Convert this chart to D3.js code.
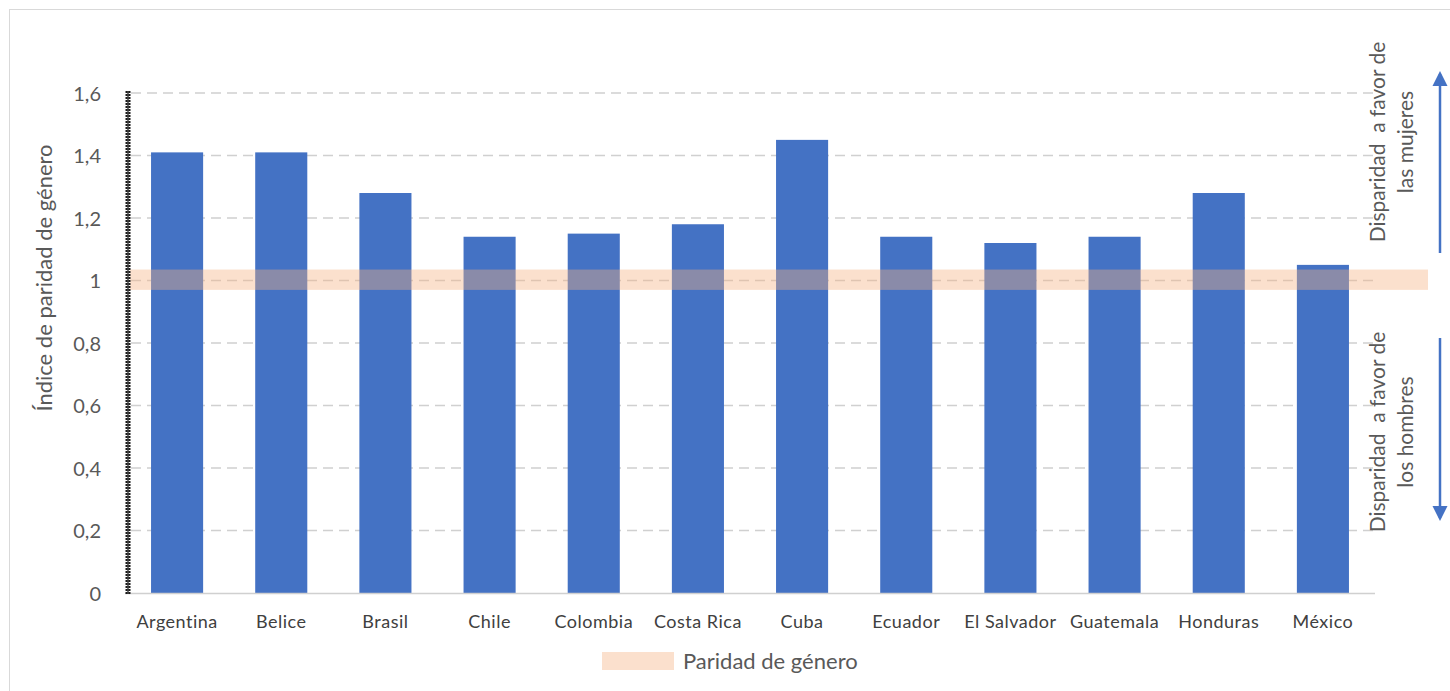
<!DOCTYPE html>
<html>
<head>
<meta charset="utf-8">
<script src="https://cdn.jsdelivr.net/npm/d3@7"></script>
<style>
  body { margin: 0; background: #fff; }
  svg { display: block; font-family: Lato, "Open Sans", sans-serif; }
</style>
</head>
<body>
<svg id="chart" width="1450" height="691"></svg>
<script>
const categories = ["Argentina", "Belice", "Brasil", "Chile", "Colombia", "Costa Rica", "Cuba", "Ecuador", "El Salvador", "Guatemala", "Honduras", "México"];
const values = [1.41, 1.41, 1.28, 1.14, 1.15, 1.18, 1.45, 1.14, 1.12, 1.14, 1.28, 1.05];
const yTicks = [0, 0.2, 0.4, 0.6, 0.8, 1, 1.2, 1.4, 1.6];
const parityBand = [0.97, 1.035];
const yTitle = "Índice de paridad de género";
const legendLabel = "Paridad de género";
const noteUp = ["Disparidad  a favor de", "las mujeres"];
const noteDown = ["Disparidad  a favor de", "los hombres"];

const svg = d3.select("#chart");
const mLeft = 125, mRight = 1375, mTop = 93, mBottom = 593;

// outer frame
svg.append("rect").attr("x", 9.5).attr("y", 9.5).attr("width", 1460).attr("height", 720)
  .attr("fill", "none").attr("stroke", "#d9d9d9").attr("stroke-width", 1);

const x = d3.scaleBand().domain(categories).range([mLeft, mRight]).paddingInner(0.5).paddingOuter(0.25);
const y = d3.scaleLinear().domain([0, 1.6]).range([mBottom, mTop]);

// gridlines
svg.append("g").selectAll("line").data(yTicks.filter(d => d > 0)).join("line")
  .attr("x1", mLeft + 6).attr("x2", mRight)
  .attr("y1", d => y(d)).attr("y2", d => y(d))
  .attr("stroke", "#d0d0d0").attr("stroke-width", 1.5).attr("stroke-dasharray", "10,6");

// bars
svg.append("g").selectAll("rect").data(values).join("rect")
  .attr("x", (d, i) => x(categories[i]))
  .attr("width", x.bandwidth())
  .attr("y", d => y(d))
  .attr("height", d => mBottom - y(d))
  .attr("fill", "#4472C4");

// x axis line
svg.append("line").attr("x1", mLeft).attr("x2", mRight).attr("y1", mBottom + 0.5).attr("y2", mBottom + 0.5)
  .attr("stroke", "#d0d0d0").attr("stroke-width", 1.5);

// parity band overlay
svg.append("rect")
  .attr("x", mLeft + 5).attr("width", 1428 - mLeft - 5)
  .attr("y", y(parityBand[1])).attr("height", y(parityBand[0]) - y(parityBand[1]))
  .attr("fill", "#F4B183").attr("opacity", 0.4);

// y axis (striped dark line)
svg.append("line").attr("x1", mLeft + 3).attr("x2", mLeft + 3).attr("y1", mTop - 2).attr("y2", mBottom + 1)
  .attr("stroke", "#1a1a1a").attr("stroke-width", 5).attr("stroke-dasharray", "2,1");
svg.append("line").attr("x1", mLeft + 3).attr("x2", mLeft + 3).attr("y1", mTop - 2).attr("y2", mBottom + 1)
  .attr("stroke", "#444").attr("stroke-width", 1.5);

// y tick labels
const yAxis = d3.axisLeft(y).tickValues(yTicks).tickSize(0).tickPadding(0)
  .tickFormat(d => d3.format("")(d).replace(".", ","));
const gy = svg.append("g").attr("transform", `translate(${mLeft - 24},0)`).call(yAxis);
gy.select(".domain").remove();
gy.selectAll("text").attr("font-family", "Lato, sans-serif").attr("font-size", 20).attr("fill", "#595959").attr("dy", "0.35em");

// x tick labels
const xAxis = d3.axisBottom(x).tickSize(0).tickPadding(0);
const gx = svg.append("g").attr("transform", `translate(0,${mBottom + 22})`).call(xAxis);
gx.select(".domain").remove();
gx.selectAll("text").attr("font-family", "Lato, sans-serif").attr("font-size", 18)
  .attr("letter-spacing", "0.5px").attr("fill", "#404040").attr("dy", "0.7em");

// y title
svg.append("text").attr("transform", `translate(52,278) rotate(-90)`)
  .attr("text-anchor", "middle").attr("font-size", 22).attr("fill", "#595959").text(yTitle);

// right notes
function note(lines, cy) {
  const t = svg.append("text").attr("transform", `translate(1385,${cy}) rotate(-90)`)
    .attr("text-anchor", "middle").attr("font-size", 21).attr("fill", "#595959")
    .style("white-space", "pre");
  lines.forEach((l, i) => t.append("tspan").attr("x", 0).attr("dy", i === 0 ? 0 : 28).text(l));
}
note(noteUp, 142);
note(noteDown, 432);

// arrows
const defs = svg.append("defs");
defs.append("marker").attr("id", "ah").attr("viewBox", "0 0 10 10").attr("refX", 8).attr("refY", 5)
  .attr("markerWidth", 6).attr("markerHeight", 7).attr("markerUnits", "strokeWidth").attr("orient", "auto")
  .append("path").attr("d", "M0,0 L10,5 L0,10 Z").attr("fill", "#4472C4");
svg.append("line").attr("x1", 1440).attr("x2", 1440).attr("y1", 253).attr("y2", 74)
  .attr("stroke", "#4472C4").attr("stroke-width", 2.5).attr("marker-end", "url(#ah)");
svg.append("line").attr("x1", 1440).attr("x2", 1440).attr("y1", 338).attr("y2", 518)
  .attr("stroke", "#4472C4").attr("stroke-width", 2.5).attr("marker-end", "url(#ah)");

// legend
svg.append("rect").attr("x", 602).attr("y", 652).attr("width", 72).attr("height", 18)
  .attr("fill", "#F4B183").attr("opacity", 0.4);
svg.append("text").attr("x", 683).attr("y", 669).attr("font-size", 22).attr("fill", "#595959").text(legendLabel);
</script>
</body>
</html>
